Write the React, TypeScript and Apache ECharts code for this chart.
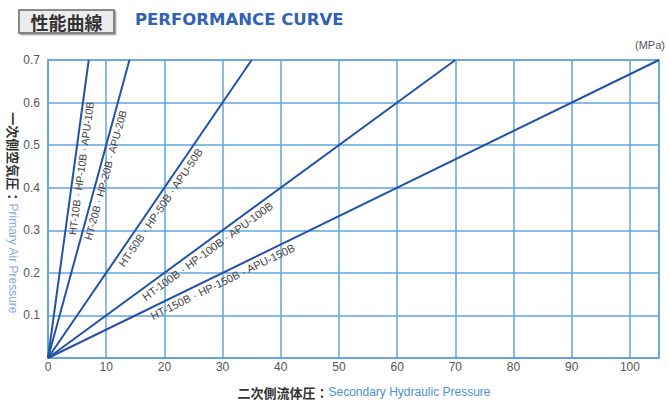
import React, { useEffect, useRef } from "react";
import * as echarts from "echarts";

// Models: secondary hydraulic pressure (MPa) reached at 0.7 MPa primary air pressure
const models = ["10B", "20B", "50B", "100B", "150B"];
const secondaryAtMax = [7, 14, 35, 70, 105];
const primaryMax = 0.7;
// where along each line (fraction of its length) the model label sits
const labelFraction = [0.64, 0.62, 0.52, 0.38, 0.28];

const xMax = 105;
const xInterval = 10;
const yInterval = 0.1;

const GRID_BLUE = "#62a4da";
const LINE_BLUE = "#2452a4";

export default function App() {
  const ref = useRef<HTMLDivElement>(null);
  useEffect(() => {
    const chart = echarts.init(ref.current!, null, { renderer: "svg" });
    const series = models.map((m, i) => ({
      name: m,
      type: "line",
      data: [
        [0, 0],
        [secondaryAtMax[i], primaryMax],
      ],
      symbol: "none",
      lineStyle: { color: LINE_BLUE, width: 2 },
      z: 3,
    }));
    chart.setOption({
      animation: false,
      grid: {
        left: 48,
        right: 10,
        top: 60,
        bottom: 47,
        show: true,
        borderColor: GRID_BLUE,
        borderWidth: 1.5,
        containLabel: false,
        outerBoundsMode: "none",
      },
      xAxis: {
        type: "value",
        min: 0,
        max: xMax,
        interval: xInterval,
        axisLine: { show: true, lineStyle: { color: GRID_BLUE, width: 1.5 } },
        axisTick: { show: false },
        splitLine: { show: true, lineStyle: { color: GRID_BLUE, width: 1.5 } },
        axisLabel: {
          color: "#555",
          fontSize: 12,
          fontFamily: "Liberation Sans",
          margin: 3,
          showMaxLabel: false,
          formatter: (v: number) => (v > 100 ? "" : String(v)),
        },
      },
      yAxis: {
        type: "value",
        min: 0,
        max: primaryMax,
        interval: yInterval,
        axisLine: { show: true, lineStyle: { color: GRID_BLUE, width: 1.5 } },
        axisTick: { show: false },
        splitLine: { show: true, lineStyle: { color: GRID_BLUE, width: 1.5 } },
        axisLabel: {
          color: "#555",
          fontSize: 12,
          fontFamily: "Liberation Sans",
          margin: 8,
          formatter: (v: number) => (v === 0 ? "" : v.toFixed(1)),
        },
      },
      series,
    });

    const labels = models.map((m, i) => {
      const p0 = chart.convertToPixel({ gridIndex: 0 }, [0, 0]) as number[];
      const p1 = chart.convertToPixel({ gridIndex: 0 }, [secondaryAtMax[i], primaryMax]) as number[];
      const t = labelFraction[i];
      const px = p0[0] + (p1[0] - p0[0]) * t;
      const py = p0[1] + (p1[1] - p0[1]) * t;
      const theta = Math.atan2(-(p1[1] - p0[1]), p1[0] - p0[0]);
      const off = i < 2 ? 7 : 8;
      return {
        type: "text",
        x: px + Math.sin(theta) * off,
        y: py + Math.cos(theta) * off,
        rotation: theta,
        z: 10,
        style: {
          text: `HT-${m} · HP-${m} · APU-${m}`,
          fill: "#444",
          fontSize: i < 2 ? 10.5 : 11,
          fontFamily: "Liberation Sans",
          align: "center",
          verticalAlign: "middle",
        },
      };
    });

    chart.setOption({
      graphic: [
        {
          type: "rect",
          shape: { x: 19, y: 10, width: 95, height: 23 },
          style: { fill: "#ececec", stroke: "#666", lineWidth: 1.5, shadowColor: "rgba(0,0,0,0.35)", shadowOffsetX: 1.5, shadowOffsetY: 1.5, shadowBlur: 1 },
        },
        {
          type: "text",
          x: 66.5,
          y: 21.5,
          style: {
            text: "性能曲線",
            fill: "#333",
            fontSize: 18,
            fontWeight: "bold",
            fontFamily: "Noto Sans CJK JP",
            align: "center",
            verticalAlign: "middle",
          },
        },
        {
          type: "text",
          x: 135,
          y: 19.5,
          style: {
            text: "PERFORMANCE CURVE",
            fill: "#2f62b4",
            fontSize: 16.5,
            fontWeight: "bold",
            fontFamily: "DejaVu Sans",
            align: "left",
            verticalAlign: "middle",
          },
        },
        {
          type: "text",
          x: 665,
          y: 45,
          style: {
            text: "(MPa)",
            fill: "#555",
            fontSize: 11,
            fontFamily: "Liberation Sans",
            align: "right",
            verticalAlign: "middle",
          },
        },
        {
          type: "text",
          x: 364,
          y: 392,
          style: {
            text: "{a|二次側流体圧：}{b|Secondary Hydraulic Pressure}",
            align: "center",
            verticalAlign: "middle",
            rich: {
              a: { fill: "#333", fontSize: 13, fontWeight: "bold", fontFamily: "Noto Sans CJK JP" },
              b: { fill: "#4f8fd6", fontSize: 12, fontFamily: "Liberation Sans" },
            },
          },
        },
        {
          type: "text",
          x: 13,
          y: 213,
          rotation: -Math.PI / 2,
          style: {
            text: "{a|一次側空気圧：}{b|Primary Air Pressure}",
            align: "center",
            verticalAlign: "middle",
            rich: {
              a: { fill: "#333", fontSize: 13, fontWeight: "bold", fontFamily: "Noto Sans CJK JP" },
              b: { fill: "#86acdf", fontSize: 12, fontFamily: "Liberation Sans" },
            },
          },
        },
        ...labels,
      ],
    });
    return () => chart.dispose();
  }, []);
  return (
    <div
      ref={ref}
      style={{ width: 669, height: 405, position: "fixed", left: 0, top: 0, background: "#fff" }}
    />
  );
}
